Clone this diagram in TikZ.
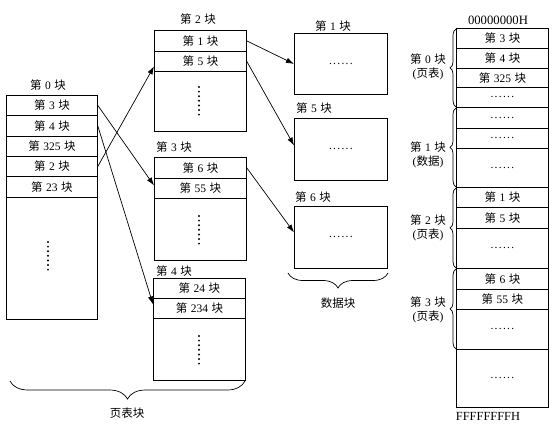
\documentclass[tikz,border=0pt]{standalone}
\usepackage{fontspec}
\setmainfont{Liberation Serif}
\newfontfamily\cjk{Noto Sans CJK SC}
\usetikzlibrary{arrows.meta,decorations.pathreplacing,calc}
\newcommand\kk[1]{{\cjk 第}\hspace{3.5pt}#1\hspace{3.5pt}{\cjk 块}}
\newcommand\sixdots{.\hspace{1.3pt}.\hspace{1.3pt}.\hspace{1.3pt}.\hspace{1.3pt}.\hspace{1.3pt}.}
\begin{document}
\begin{tikzpicture}[x=1pt,y=-1pt,
  cell/.style={draw,line width=.8pt,inner sep=0pt,anchor=north west,font=\fontsize{11.5}{13}\selectfont},
  lw/.style={cell,minimum width=91pt},
  mw/.style={cell,minimum width=92pt},
  lbl/.style={inner sep=0pt,font=\fontsize{11.5}{13}\selectfont},
  side/.style={inner sep=0pt,align=center,font=\fontsize{11.5}{14.5}\selectfont},
  arr/.style={line width=.7pt,-{Latex[length=8pt,width=5.5pt]}},
  brc/.style={decorate,decoration={brace,amplitude=#1},line width=.7pt},
  brc/.default=6pt]
\useasboundingbox[fill=white] (0,0) rectangle (553,432);

% ---- left block (block 0)
\node[lbl] (l0) at (48,85) {\kk{0}};
\node[lw,minimum height=20pt] (l3) at (6,95) {\kk{3}};
\node[lw,minimum height=21pt] (l4) at (6,115) {\kk{4}};
\node[lw,minimum height=20pt] (l325) at (6,136) {\kk{325}};
\node[lw,minimum height=20pt] (l2) at (6,156) {\kk{2}};
\node[lw,minimum height=21pt] (l23) at (6,176) {\kk{23}};
\node[lw,minimum height=122pt] (lrest) at (6,197) {};
\foreach \i in {0,...,6} \fill (48,242+\i*4.6) circle (1.1pt);

% ---- middle: block 2
\node[lbl] (m2l) at (198,19) {\kk{2}};
\node[mw,minimum height=21pt] (m2a) at (154,30) {\kk{1}};
\node[mw,minimum height=20pt] (m2b) at (154,51) {\kk{5}};
\node[mw,minimum height=60pt] (m2c) at (154,71) {};
\foreach \i in {0,...,6} \fill (199,87+\i*4.6) circle (1.1pt);

% ---- middle: block 3
\node[lbl,anchor=west] (m3l) at (156,147) {\kk{3}};
\node[mw,minimum height=21pt] (m3a) at (154,157) {\kk{6}};
\node[mw,minimum height=20pt] (m3b) at (154,178) {\kk{55}};
\node[mw,minimum height=62pt] (m3c) at (154,198) {};
\foreach \i in {0,...,6} \fill (199,216+\i*4.6) circle (1.1pt);

% ---- middle: block 4
\node[lbl,anchor=west] (m4l) at (156,271) {\kk{4}};
\node[mw,minimum height=20pt] (m4a) at (153,278) {\kk{24}};
\node[mw,minimum height=20pt] (m4b) at (153,298) {\kk{234}};
\node[mw,minimum height=62pt] (m4c) at (153,318) {};
\foreach \i in {0,...,6} \fill (199,336+\i*4.6) circle (1.1pt);

% ---- data blocks
\node[lbl] (d1l) at (333,26) {\kk{1}};
\node[mw,minimum width=93pt,minimum height=61pt] (d1) at (294,33) {\sixdots};
\node[lbl,anchor=west] (d5l) at (296,108) {\kk{5}};
\node[mw,minimum width=93pt,minimum height=62pt] (d5) at (294,118) {\sixdots};
\node[lbl,anchor=west] (d6l) at (295,197) {\kk{6}};
\node[mw,minimum width=93pt,minimum height=62pt] (d6) at (294,206) {\sixdots};
\coordinate (dbr) at (388,273);
\coordinate (dbl) at (288,273);
\draw[brc=15pt] (dbr) -- (dbl);
\node[lbl] (dlab) at (338,303) {{\cjk 数据块}};

% ---- bottom brace
\coordinate (pbr) at (245,381);
\coordinate (pbl) at (10,381);
\draw[brc=18pt] (pbr) -- (pbl);
\node[lbl] (plab) at (127,413) {{\cjk 页表块}};

% ---- right stack
\node[lbl,font=\fontsize{12.7}{13}\selectfont] (top) at (498,20) {00000000H};
\node[mw,minimum height=20pt] (r1) at (456,28) {\kk{3}};
\node[mw,minimum height=20pt] (r2) at (456,48) {\kk{4}};
\node[mw,minimum height=19pt] (r3) at (456,68) {\kk{325}};
\node[mw,minimum height=20pt] (r4) at (456,87) {\sixdots};
\node[mw,minimum height=21pt] (r5) at (456,107) {\sixdots};
\node[mw,minimum height=20pt] (r6) at (456,128) {\sixdots};
\node[mw,minimum height=39pt] (r7) at (456,148) {\sixdots};
\node[mw,minimum height=20pt] (r8) at (456,187) {\kk{1}};
\node[mw,minimum height=21pt] (r9) at (456,207) {\kk{5}};
\node[mw,minimum height=40pt] (r10) at (456,228) {\sixdots};
\node[mw,minimum height=21pt] (r11) at (456,268) {\kk{6}};
\node[mw,minimum height=20pt] (r12) at (456,289) {\kk{55}};
\node[mw,minimum height=40pt] (r13) at (456,309) {\sixdots};
\node[mw,minimum height=58pt] (r14) at (456,349) {\sixdots};
\node[lbl,font=\fontsize{12.4}{13}\selectfont] (bot) at (488,416) {FFFFFFFFH};

\draw[brc] ([yshift=1pt]r4.south west) -- ([yshift=-1pt]r1.north west);
\draw[brc] ([yshift=1pt]r7.south west) -- ([yshift=-1pt]r5.north west);
\draw[brc] ([yshift=1pt]r10.south west) -- ([yshift=-1pt]r8.north west);
\draw[brc] ([yshift=1pt]r13.south west) -- ([yshift=-1pt]r11.north west);
\node[side] (s0) at (428,67) {\kk{0}\\({\cjk 页表})};
\node[side] (s1) at (428,155) {\kk{1}\\({\cjk 数据})};
\node[side] (s2) at (428,228) {\kk{2}\\({\cjk 页表})};
\node[side] (s3) at (428,310) {\kk{3}\\({\cjk 页表})};

% ---- arrows
\draw[arr] (l3.east) -- ([yshift=3pt]m3b.west);
\draw[arr] (l4.east) -- ([yshift=4pt]m4b.west);
\draw[arr] (l2.east) -- ([yshift=-5pt]m2b.west);
\draw[arr] (m2a.east) -- (d1.west);
\draw[arr] (m2b.east) -- ([yshift=4pt]d5.west);
\draw[arr] (m3a.east) -- ([yshift=5pt]d6.west);
\end{tikzpicture}
\end{document}
